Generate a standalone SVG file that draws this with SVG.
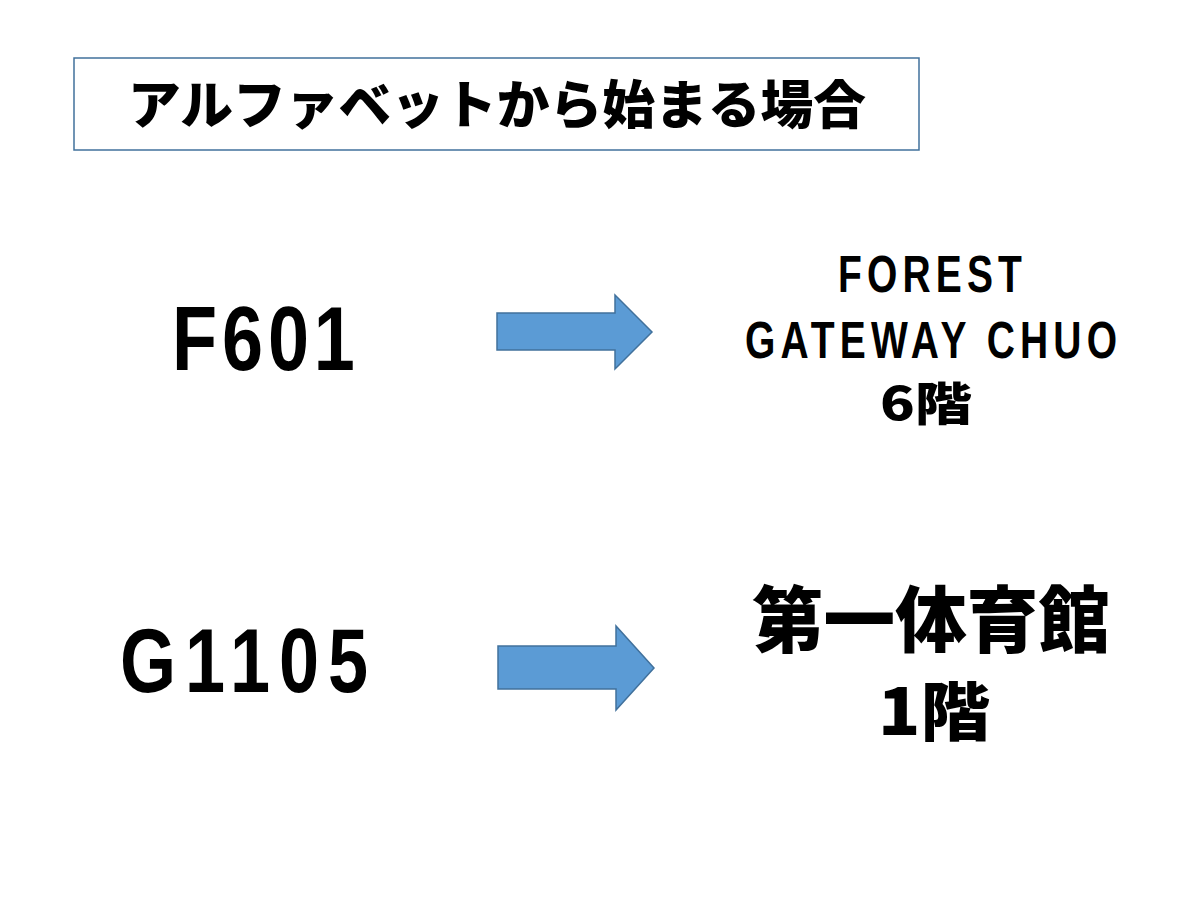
<svg xmlns="http://www.w3.org/2000/svg" width="1200" height="900" viewBox="0 0 1200 900">
<style>
.lat{font-family:"Liberation Sans","DejaVu Sans",sans-serif;font-weight:bold;fill:#000}
.jp{font-family:"Noto Sans CJK JP","Noto Sans CJK SC",sans-serif;font-weight:900;fill:#000}
.arr{fill:#5b9bd5;stroke:#41719c;stroke-width:1.5}
</style>
<rect width="1200" height="900" fill="#fff"/>
<g id="title">
<rect x="74" y="58" width="845" height="92" fill="#fff" stroke="#41719c" stroke-width="1.5"/>
<text class="jp" x="497" y="124" font-size="52" text-anchor="middle" textLength="738" lengthAdjust="spacingAndGlyphs">アルファベットから始まる場合</text>
</g>
<g id="f601">
<text class="lat" transform="scale(0.82,1)" x="209.76" y="370" font-size="90" textLength="223" lengthAdjust="spacing">F601</text>
</g>
<g id="forest">
<text class="lat" transform="scale(0.75,1)" x="1240" y="292" font-size="52" text-anchor="middle" textLength="245" lengthAdjust="spacing">FOREST</text>
<text class="lat" transform="scale(0.75,1)" x="1241.33" y="358" font-size="52" text-anchor="middle" textLength="496" lengthAdjust="spacing">GATEWAY CHUO</text>
<text class="jp" x="926" y="420" font-size="46" text-anchor="middle" textLength="92" lengthAdjust="spacingAndGlyphs">6階</text>
</g>
<g id="g1105">
<text class="lat" transform="scale(0.8,1)" x="150" y="692" font-size="90" textLength="310" lengthAdjust="spacing">G1105</text>
</g>
<g id="gym">
<text class="jp" x="931" y="646" font-size="72" text-anchor="middle" textLength="358" lengthAdjust="spacingAndGlyphs">第一体育館</text>
<text class="jp" x="934" y="735" font-size="64" text-anchor="middle" textLength="112" lengthAdjust="spacingAndGlyphs">1階</text>
</g>
<g id="connectors">
<polygon class="arr" points="497,313 615,313 615,295 652,332 615,369 615,350 497,350"/>
<polygon class="arr" points="498,646 616,646 616,626 654,668 616,710 616,689 498,689"/>
</g>
</svg>
